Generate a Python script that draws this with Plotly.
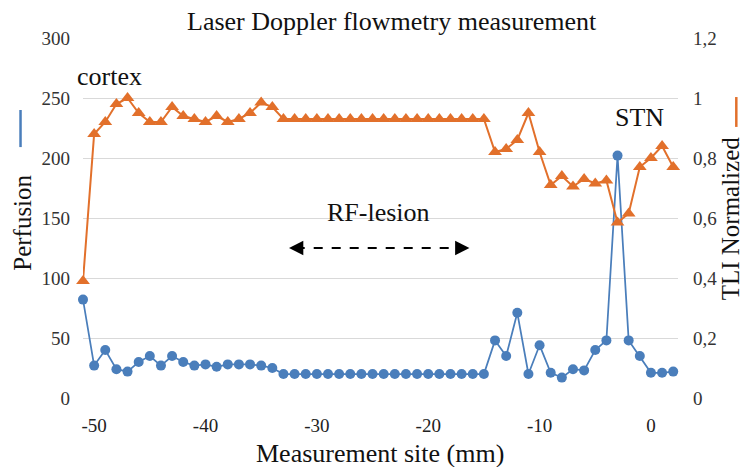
import plotly.graph_objects as go

# Measurement sites (mm)
sites = list(range(-51, 3))

# Perfusion (left axis)
perfusion = [82, 27, 40, 24, 22, 30, 35, 27, 35, 30, 27, 28, 26, 28, 28, 28, 27, 25,
             20, 20, 20, 20, 20, 20, 20, 20, 20, 20, 20, 20, 20, 20, 20, 20, 20, 20, 20,
             48, 35, 71, 20, 44, 21, 17, 24, 23, 40, 48, 202, 48, 35, 21, 21, 22]

# TLI normalized (right axis)
tli = [0.39, 0.88, 0.92, 0.98, 1.0, 0.95, 0.92, 0.92, 0.97, 0.94, 0.93, 0.92, 0.94, 0.92,
       0.93, 0.95, 0.985, 0.97,
       0.93, 0.93, 0.93, 0.93, 0.93, 0.93, 0.93, 0.93, 0.93, 0.93, 0.93, 0.93, 0.93, 0.93,
       0.93, 0.93, 0.93, 0.93, 0.93,
       0.82, 0.83, 0.86, 0.95, 0.82, 0.71, 0.74, 0.705, 0.73, 0.715, 0.725, 0.585, 0.615,
       0.77, 0.80, 0.84, 0.77]

x_tick_vals = [-50, -40, -30, -20, -10, 0]
x_tick_labels = ["-50", "-40", "-30", "-20", "-10", "0"]
left_tick_vals = [0, 50, 100, 150, 200, 250, 300]
right_tick_vals = [0, 0.2, 0.4, 0.6, 0.8, 1.0, 1.2]
right_tick_labels = ["0", "0,2", "0,4", "0,6", "0,8", "1", "1,2"]

BLUE = "#4a7ebb"
ORANGE = "#e2702b"
FONT = "Liberation Serif"

fig = go.Figure()
fig.add_trace(go.Scatter(
    x=sites, y=perfusion, mode="lines+markers", yaxis="y",
    line=dict(color=BLUE, width=1.75),
    marker=dict(symbol="circle", size=10, color=BLUE),
    cliponaxis=False, showlegend=False))
fig.add_trace(go.Scatter(
    x=sites, y=tli, mode="lines+markers", yaxis="y2",
    line=dict(color=ORANGE, width=2),
    marker=dict(symbol="triangle-up", size=12, color=ORANGE),
    cliponaxis=False, showlegend=False))

# the page body adds an 8px offset, so the figure is 8px smaller than the window
fig.update_layout(
    width=740, height=459,
    margin=dict(l=75, r=70, t=30, b=69, autoexpand=False),
    paper_bgcolor="white", plot_bgcolor="white",
    font=dict(family=FONT, color="#222222"),
    xaxis=dict(range=[-51, 2.43], tickvals=x_tick_vals, ticktext=x_tick_labels,
               showgrid=False, zeroline=False, showline=False, ticks="",
               tickfont=dict(size=19, family=FONT, color="#222222"),
               ticklabelstandoff=14, automargin=False),
    yaxis=dict(range=[0, 300], tickvals=left_tick_vals, showgrid=True,
               gridcolor="#d9d9d9", gridwidth=1.3, zeroline=False, showline=False,
               ticks="", tickfont=dict(size=19, family=FONT, color="#333333"),
               ticklabelstandoff=12, automargin=False),
    yaxis2=dict(range=[0, 1.2], tickvals=right_tick_vals, ticktext=right_tick_labels,
                overlaying="y", side="right", showgrid=False, zeroline=False,
                showline=False, ticks="",
                tickfont=dict(size=19, family=FONT, color="#333333"),
                ticklabelstandoff=14, automargin=False),
)

def ann(text, x, y, size=26, angle=0):
    fig.add_annotation(text=text, x=x, y=y, xref="paper", yref="paper",
                       showarrow=False, textangle=angle,
                       font=dict(size=size, family=FONT, color="#111111"),
                       xanchor="center", yanchor="middle")

ann("Laser Doppler flowmetry measurement", 0.519, 1.047, size=26)
ann("Perfusion", -0.103, 0.486, size=25, angle=-90)
ann("TLI Normalized", 1.088, 0.5, size=25, angle=-90)
ann("Measurement site (mm)", 0.499, -0.155)
ann("cortex", 0.045, 0.892)
ann("STN", 0.936, 0.778)
ann("RF-lesion", 0.496, 0.514)

# axis-title series keys
fig.add_shape(type="line", xref="paper", yref="paper", x0=-0.105, x1=-0.105,
              y0=0.697, y1=0.8, line=dict(color=BLUE, width=2.5))
fig.add_shape(type="line", xref="paper", yref="paper", x0=1.098, x1=1.098,
              y0=0.753, y1=0.836, line=dict(color=ORANGE, width=2.5))

# RF-lesion double arrow
arrow_left, arrow_right, arrow_y = -32.5, -16.3, 125
fig.add_shape(type="line", xref="x", yref="y", x0=arrow_left + 0.6, x1=arrow_right - 0.6,
              y0=arrow_y, y1=arrow_y, line=dict(color="black", width=2.2, dash="dash"))
for tip, off in [(arrow_left, 10), (arrow_right, -10)]:
    fig.add_annotation(x=tip, y=arrow_y, xref="x", yref="y", ax=off, ay=0,
                       axref="pixel", ayref="pixel", text="", showarrow=True,
                       arrowhead=2, arrowsize=1.3, arrowwidth=2.2, arrowcolor="black")

fig.write_html("out.html")
